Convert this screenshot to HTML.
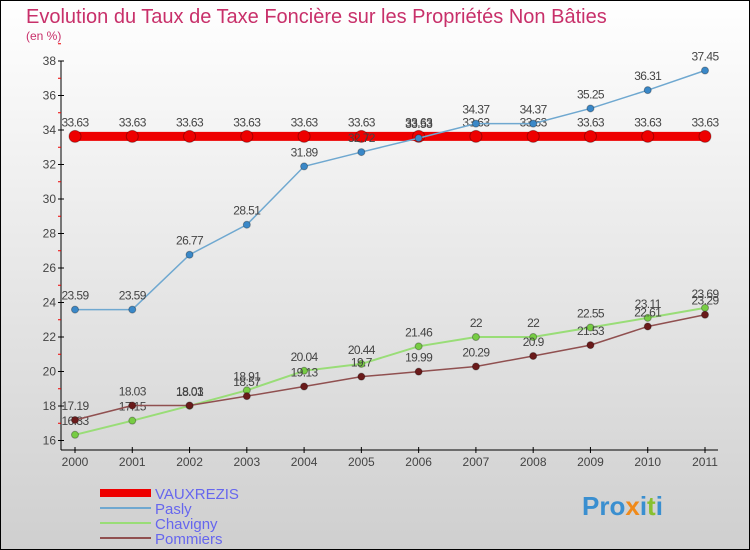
<!DOCTYPE html>
<html><head><meta charset="utf-8"><style>
body{margin:0;width:750px;height:550px;overflow:hidden}
svg{display:block;font-family:"Liberation Sans",sans-serif}
</style></head><body>
<svg id="c" width="750" height="550">
<defs><linearGradient id="bg" x1="0" y1="0" x2="0" y2="1"><stop offset="0" stop-color="#ffffff"/><stop offset="1" stop-color="#cfcfcf"/></linearGradient></defs>
<rect x="0.5" y="0.5" width="749" height="549" fill="url(#bg)" stroke="#000"/>
<text x="26" y="23" font-size="20" fill="#c8306a">Evolution du Taux de Taxe Foncière sur les Propriétés Non Bâties</text>
<text x="26" y="40" font-size="12" fill="#c8306a">(en %)</text>
<g id="axes"></g><g id="series"></g>
<g>
<rect x="100" y="489" width="51" height="8" fill="#e00"/>
<text x="155" y="499" font-size="15" fill="#6666ee">VAUXREZIS</text>
<line x1="100" y1="508" x2="151" y2="508" stroke="#6fa8d0" stroke-width="2"/>
<text x="155" y="514" font-size="15" fill="#6666ee">Pasly</text>
<line x1="100" y1="523" x2="151" y2="523" stroke="#99dd77" stroke-width="2"/>
<text x="155" y="529" font-size="15" fill="#6666ee">Chavigny</text>
<line x1="100" y1="538" x2="151" y2="538" stroke="#905050" stroke-width="2"/>
<text x="155" y="544" font-size="15" fill="#6666ee">Pommiers</text>
</g>
<text x="582" y="515" font-size="26" font-weight="bold"><tspan fill="#3a8fd0">Pro</tspan><tspan fill="#f08a1a">x</tspan><tspan fill="#3a8fd0">i</tspan><tspan fill="#88c030">t</tspan><tspan fill="#3a8fd0">i</tspan></text>
</svg>
<script>
const years=[2000,2001,2002,2003,2004,2005,2006,2007,2008,2009,2010,2011];
const yTicks=[16,18,20,22,24,26,28,30,32,34,36,38];
const vauxrezis=[33.63,33.63,33.63,33.63,33.63,33.63,33.63,33.63,33.63,33.63,33.63,33.63];
const pasly=[23.59,23.59,26.77,28.51,31.89,32.72,33.53,34.37,34.37,35.25,36.31,37.45];
const chavigny=[16.33,17.15,18.01,18.91,20.04,20.44,21.46,22,22,22.55,23.11,23.69];
const pommiers=[17.19,18.03,18.03,18.57,19.13,19.7,19.99,20.29,20.9,21.53,22.61,23.29];
const NS="http://www.w3.org/2000/svg";
const X=i=>75+i*(705-75)/(years.length-1);
const Y=v=>440.5-(v-16)*(440.5-61)/22;
function mk(t,a,p){const e=document.createElementNS(NS,t);for(const k in a)e.setAttribute(k,a[k]);p.appendChild(e);return e;}
const ax=document.getElementById('axes');
const yl=mk('line',{x1:61,y1:61,x2:61,y2:450,stroke:'#000'},ax);


const xl=mk('line',{x1:61,y1:450,x2:718,y2:450,stroke:'#000'},ax);


yTicks.forEach(v=>{mk('line',{x1:58,x2:64,y1:Y(v),y2:Y(v),stroke:'#000'},ax);
 mk('line',{x1:58,x2:61,y1:Y(v+1),y2:Y(v+1),stroke:'#e00'},ax);
 const t=mk('text',{x:56,y:Y(v)+4,'font-size':12,fill:'#444','text-anchor':'end'},ax);t.textContent=v;
 
 });
years.forEach((y,i)=>{mk('line',{x1:X(i),x2:X(i),y1:447,y2:453,stroke:'#000'},ax);
 const t=mk('text',{x:X(i),y:466,'font-size':12,fill:'#444','text-anchor':'middle'},ax);t.textContent=y;
 
 });
const sg=document.getElementById('series');
function series(d,name,col,w,r,dot){
 const g=mk('g',{},sg);
 
 
 mk('polyline',{points:d.map((v,i)=>X(i)+','+Y(v)).join(' '),fill:'none',stroke:col,'stroke-width':w},g);
 d.forEach((v,i)=>{const c=mk('circle',{cx:X(i),cy:Y(v),r:r,fill:dot,stroke:'rgba(0,0,0,0.3)'},g);
  
  
  const t=mk('text',{x:X(i),y:Y(v)-10,'font-size':12,fill:'#444','text-anchor':'middle','letter-spacing':'-0.6'},g);t.textContent=v;
  
  });
}
series(vauxrezis,'vauxrezis','#e00',9,6,'#e00');
series(pasly,'pasly','#6fa8d0',1.5,3.5,'#3a88c8');
series(chavigny,'chavigny','#99dd77',2,3.5,'#77cc44');
series(pommiers,'pommiers','#905050',1.5,3.5,'#6a1a1a');
</script>
</body></html>
